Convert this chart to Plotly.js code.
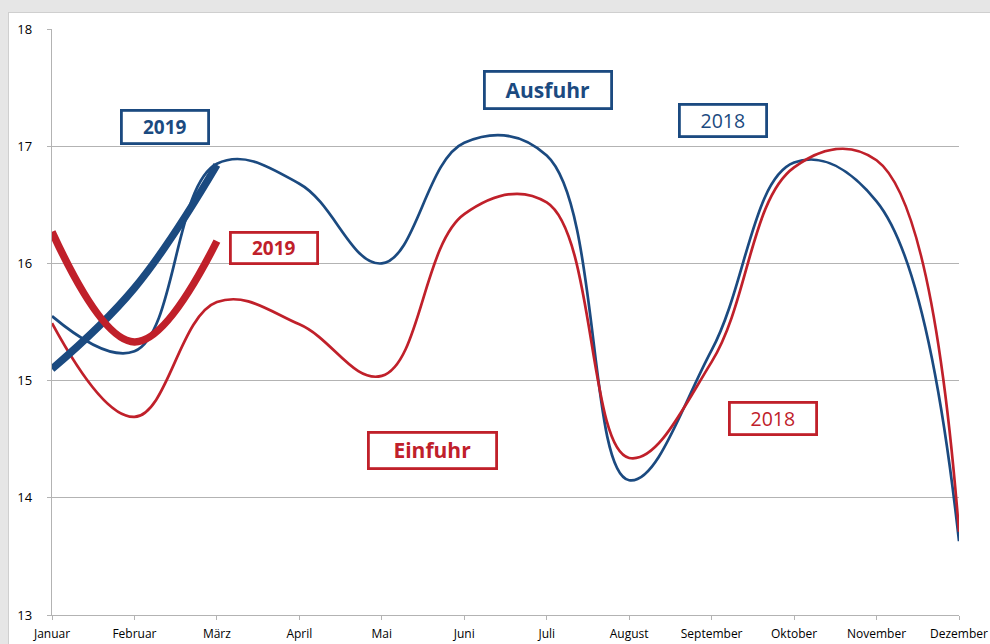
<!DOCTYPE html>
<html>
<head>
<meta charset="utf-8">
<script src="https://cdn.plot.ly/plotly-3.0.1.min.js"></script>
<style>
  html, body { margin: 0; padding: 0; background: #e6e6e6; width: 990px; height: 644px; overflow: hidden; }
  #chart { position: absolute; left: 8px; top: 12px; width: 982px; height: 632px; background: #ffffff;
           border-left: 1px solid #cfcfcf; border-top: 1px solid #cfcfcf; box-sizing: border-box; }
</style>
</head>
<body>
<div id="chart"></div>
<script>
const months = ["Januar","Februar","März","April","Mai","Juni","Juli","August","September","Oktober","November","Dezember"];
const ausfuhr2018 = [15.55, 15.25, 16.85, 16.68, 16.0, 17.03, 16.92, 14.15, 15.26, 16.86, 16.53, 13.63];
const einfuhr2018 = [15.49, 14.69, 15.67, 15.48, 15.04, 16.42, 16.52, 14.34, 15.16, 16.82, 16.88, 13.71];
const ausfuhr2019 = [15.10, 15.79, 16.84];
const einfuhr2019 = [16.27, 15.33, 16.19];
const months2019 = months.slice(0, 3);

const BLUE = "#1b4a80";
const RED = "#c0202a";
const SM = 1.15;

const traces = [
  { x: months, y: ausfuhr2018, type: "scatter", mode: "lines", name: "Ausfuhr 2018",
    line: { color: BLUE, width: 2.7, shape: "spline", smoothing: SM } },
  { x: months, y: einfuhr2018, type: "scatter", mode: "lines", name: "Einfuhr 2018",
    line: { color: RED, width: 2.7, shape: "spline", smoothing: SM } },
  { x: months2019, y: ausfuhr2019, type: "scatter", mode: "lines", name: "Ausfuhr 2019",
    line: { color: BLUE, width: 7.5, shape: "spline", smoothing: SM } },
  { x: months2019, y: einfuhr2019, type: "scatter", mode: "lines", name: "Einfuhr 2019",
    line: { color: RED, width: 7.5, shape: "spline", smoothing: SM } }
];

function box(text, x, y, color, bold, size, w, h) {
  return {
    xref: "paper", yref: "paper", x: x, y: y, xanchor: "center", yanchor: "middle",
    text: bold ? "<b>" + text + "</b>" : text, showarrow: false,
    font: { family: "Open Sans, sans-serif", size: size, color: color },
    bordercolor: color, borderwidth: 2.8, borderpad: 0, bgcolor: "#ffffff",
    width: w, height: h
  };
}

// plot area in page px: x 50.5..958.5, y 28..614.5
const PX0 = 50.5, PX1 = 958.5, PY0 = 28, PY1 = 614.5;
const px = v => (v - PX0) / (PX1 - PX0);
const py = v => (PY1 - v) / (PY1 - PY0);

const annotations = [
  box("2019", px(164), py(126), BLUE, true, 19, 84, 30),
  box("Ausfuhr", px(547), py(89), BLUE, true, 21, 124, 34),
  box("2018", px(722), py(120), BLUE, false, 19.5, 84, 29),
  box("2019", px(273), py(247), RED, true, 19, 84, 28),
  box("Einfuhr", px(431), py(450), RED, true, 21, 125, 33),
  box("2018", px(772), py(418), RED, false, 19.5, 84, 29)
];

const layout = {
  width: 982, height: 632,
  margin: { l: 42.5, r: 31.5, t: 16, b: 29.5 },
  paper_bgcolor: "rgba(0,0,0,0)",
  plot_bgcolor: "#ffffff",
  showlegend: false,
  font: { family: "Open Sans, sans-serif", color: "#000000" },
  xaxis: {
    type: "category", range: [0, 11], showgrid: false, zeroline: false,
    showline: true, linecolor: "#b3b3b3", linewidth: 1.3,
    ticks: "outside", ticklen: 4, tickcolor: "#b3b3b3", tickwidth: 1,
    tickfont: { size: 12, color: "#000000" }, ticklabelstandoff: 3
  },
  yaxis: {
    range: [13, 18], tickvals: [13, 14, 15, 16, 17, 18], ticktext: ["13","14","15","16","17","18"],
    showgrid: true, gridcolor: "#b3b3b3", gridwidth: 1.3, zeroline: false,
    showline: true, linecolor: "#b3b3b3", linewidth: 1.3,
    ticks: "outside", ticklen: 4, tickcolor: "#b3b3b3",
    tickfont: { size: 13, color: "#000000" }, ticklabelstandoff: 12
  },
  annotations: annotations
};

Plotly.newPlot("chart", traces, layout, { displayModeBar: false, staticPlot: true });
</script>
</body>
</html>
